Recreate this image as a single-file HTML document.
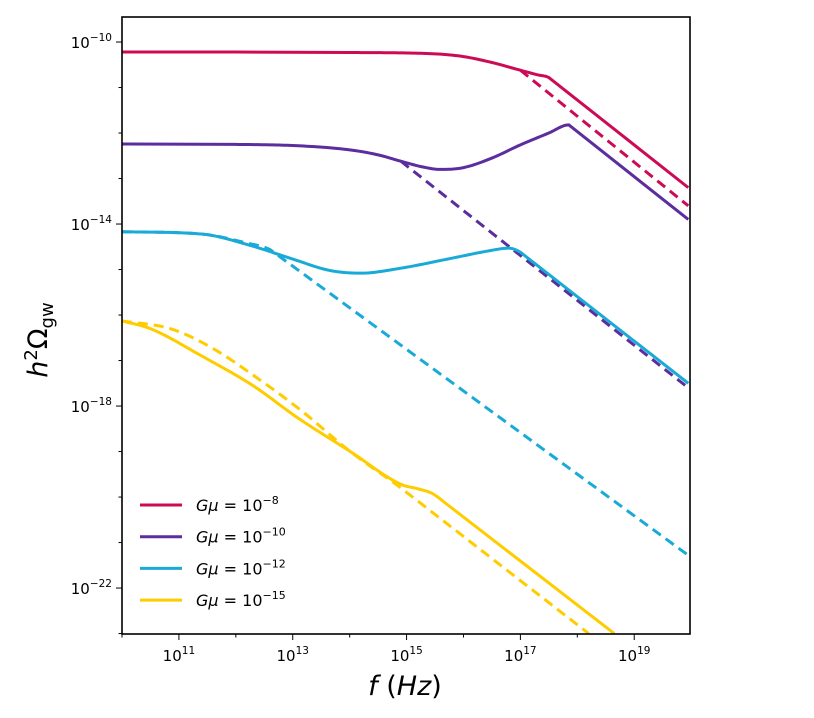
<!DOCTYPE html>
<html><head><meta charset="utf-8"><style>
body{margin:0;background:#fff;}
svg{display:block;font-family:"DejaVu Sans","Liberation Sans",sans-serif;}
</style></head><body>
<svg id="chart" width="814" height="718">
<defs><clipPath id="clip"><rect x="122" y="17" width="568" height="617"/></clipPath></defs>
<g id="series" clip-path="url(#clip)"></g>
<rect x="122" y="17" width="568" height="617" fill="none" stroke="#000" stroke-width="1.6"/>
<g id="axes"></g>
<text x="47" y="340" font-size="27" font-style="italic" transform="rotate(-90 47 340)" text-anchor="middle">h<tspan font-style="normal" font-size="18" dy="-10">2</tspan><tspan font-style="normal" dy="10">Ω</tspan><tspan font-style="normal" font-size="18" dy="6">gw</tspan></text>
<text x="405" y="695" font-size="27" text-anchor="middle"><tspan font-style="italic">f</tspan> (<tspan font-style="italic">Hz</tspan>)</text>
<g id="legend"></g>
</svg>
<script>
const xTicks=[11,13,15,17,19];
const yTicks=[-10,-14,-18,-22];
const labels=["-8","-10","-12","-15"];
const colors=["#cc0a55","#5b2d9e","#1aaad8","#ffcc00"];
const redSolidX=[10,12,14,15.5,16,16.5,17,17.3,17.5,19.95];
const redSolidY=[-10.22,-10.22,-10.23,-10.26,-10.32,-10.45,-10.62,-10.72,-10.78,-13.2];
const redDashX=[17,19.95];
const redDashY=[-10.62,-13.6];
const purpleSolidX=[10,12,13.1,14,14.5,14.9,15.3,15.6,16,16.5,17,17.5,17.85,19.95];
const purpleSolidY=[-12.24,-12.25,-12.28,-12.37,-12.48,-12.62,-12.75,-12.8,-12.76,-12.55,-12.26,-12.0,-11.82,-13.9];
const purpleDashX=[14.9,19.95];
const purpleDashY=[-12.62,-17.6];
const cyanSolidX=[10,11.4,12.2,13,13.65,14.2,14.9,15.8,16.4,16.8,17.0,19.95];
const cyanSolidY=[-14.17,-14.22,-14.45,-14.77,-15.02,-15.08,-14.97,-14.75,-14.6,-14.53,-14.62,-17.5];
const cyanDashX=[10,11.4,12.2,12.6,19.95];
const cyanDashY=[-14.17,-14.22,-14.42,-14.56,-21.28];
const yellowSolidX=[10,10.5,11.4,12.3,13.1,14,14.9,15.2,15.45,15.7,18.65];
const yellowSolidY=[-16.13,-16.3,-16.9,-17.55,-18.27,-18.99,-19.72,-19.82,-19.92,-20.15,-23.0];
const yellowDashX=[10,10.85,11.55,12.45,13.15,14,14.9,18.2];
const yellowDashY=[-16.13,-16.3,-16.7,-17.45,-18.1,-18.99,-19.8,-23.0];

const X0=122,X1=690,Y0=17,Y1=634;
const xmin=10,xmax=19.98,ymax=-9.45,ymin=-23.01;
const sx=v=>X0+(v-xmin)/(xmax-xmin)*(X1-X0);
const sy=v=>Y0+(ymax-v)/(ymax-ymin)*(Y1-Y0);
const NS="http://www.w3.org/2000/svg";
const g=document.getElementById("series"),ax=document.getElementById("axes"),lg=document.getElementById("legend");
function mk(t,a,p){const e=document.createElementNS(NS,t);for(const k in a)e.setAttribute(k,a[k]);p.appendChild(e);return e;}
// monotone cubic interpolation; long segments (power-law tails) drawn straight
function pathD(xs,ys){
 const n=xs.length;
 if(n<3)return "M"+xs.map((x,i)=>sx(x)+","+sy(ys[i])).join("L");
 const d=[],m=new Array(n);
 for(let i=0;i<n-1;i++)d.push((ys[i+1]-ys[i])/(xs[i+1]-xs[i]));
 m[0]=d[0];m[n-1]=d[n-2];
 for(let i=1;i<n-1;i++){m[i]=(d[i-1]*d[i]<=0)?0:(d[i-1]+d[i])/2;}
 for(let i=0;i<n-1;i++){if(d[i]===0){m[i]=0;m[i+1]=0;continue;}
  const a=m[i]/d[i],b=m[i+1]/d[i],s=a*a+b*b;if(s>9){const t=3/Math.sqrt(s);m[i]=t*a*d[i];m[i+1]=t*b*d[i];}}
 let p="M"+sx(xs[0])+","+sy(ys[0]);
 for(let i=0;i<n-1;i++){const h=xs[i+1]-xs[i];
  if(h>1.5){p+="L"+sx(xs[i+1]).toFixed(2)+","+sy(ys[i+1]).toFixed(2);continue;}
  const m0=(i+1<n-1&&xs[i+2]-xs[i+1]>1.5&&false)?d[i]:m[i];
  const N=Math.max(2,Math.ceil(h*20));
  for(let k=1;k<=N;k++){const t=k/N,t2=t*t,t3=t2*t;
   const y=(2*t3-3*t2+1)*ys[i]+(t3-2*t2+t)*h*m0+(-2*t3+3*t2)*ys[i+1]+(t3-t2)*h*m[i+1];
   p+="L"+sx(xs[i]+t*h).toFixed(2)+","+sy(y).toFixed(2);}}
 return p;}
const series=[["red",redSolidX,redSolidY,redDashX,redDashY],["purple",purpleSolidX,purpleSolidY,purpleDashX,purpleDashY],["cyan",cyanSolidX,cyanSolidY,cyanDashX,cyanDashY],["yellow",yellowSolidX,yellowSolidY,yellowDashX,yellowDashY]];
series.forEach((s,i)=>{
 let e=mk("path",{d:pathD(s[3],s[4]),fill:"none",stroke:colors[i],"stroke-width":3,"stroke-dasharray":"10,6"},g);
 
 
 e=mk("path",{d:pathD(s[1],s[2]),fill:"none",stroke:colors[i],"stroke-width":3,"stroke-linejoin":"round"},g);
 
 
 const ly=505+i*31.7;
 e=mk("line",{x1:140,x2:182,y1:ly,y2:ly,stroke:colors[i],"stroke-width":3},lg);
 
 
 e=mk("text",{x:196,y:ly+6,"font-size":16},lg);
 e.innerHTML=`<tspan font-style="italic">Gμ</tspan> = 10<tspan font-size="11" dy="-7">−${labels[i].slice(1)}</tspan>`;
 
 
});
for(let v=10;v<=19;v++){const x=sx(v);const major=xTicks.includes(v);
 const t=mk("line",{x1:x,x2:x,y1:Y1,y2:Y1+(major?6:3.5),stroke:"#000","stroke-width":1},ax);
 
 
 if(major){const tx=mk("text",{x:x,y:Y1+27,"font-size":15,"text-anchor":"middle"},ax);
  tx.innerHTML=`10<tspan font-size="10.5" dy="-7">${v}</tspan>`;
  
  }}
for(let v=-23;v<=-10;v++){const y=sy(v);const major=yTicks.includes(v);
 const t=mk("line",{x1:X0,x2:X0-(major?6:3.5),y1:y,y2:y,stroke:"#000","stroke-width":1},ax);
 
 
 if(major){const tx=mk("text",{x:X0-10,y:y+6,"font-size":15,"text-anchor":"end"},ax);
  tx.innerHTML=`10<tspan font-size="10.5" dy="-7">−${-v}</tspan>`;
  
  }}
</script>
</body></html>
